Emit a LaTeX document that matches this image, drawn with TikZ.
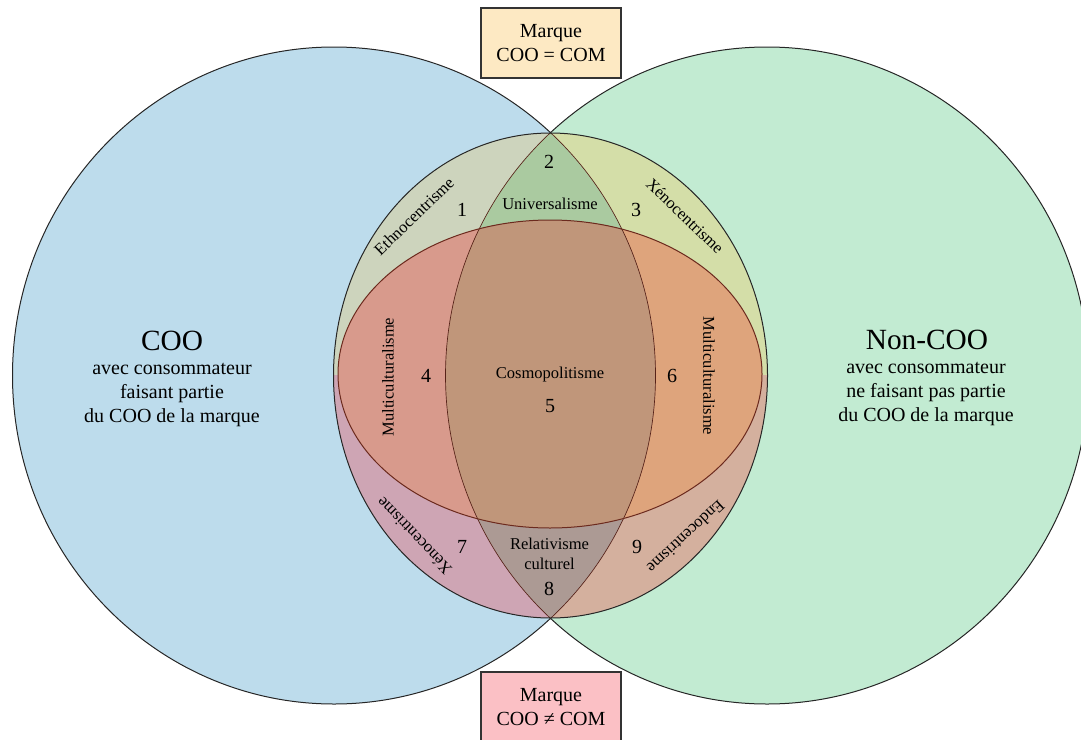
\documentclass[tikz,border=0pt]{standalone}
\usepackage{fontspec}
\setmainfont{Liberation Serif}
\definecolor{cooblue}{HTML}{BDDCEC}
\definecolor{noncoogreen}{HTML}{C2EBD2}
\definecolor{ethno}{HTML}{CDD4BD}
\definecolor{univ}{HTML}{AACAA0}
\definecolor{xenohaut}{HTML}{D4DEA8}
\definecolor{multig}{HTML}{D89A8C}
\definecolor{cosmo}{HTML}{C0967A}
\definecolor{multid}{HTML}{DEA47C}
\definecolor{xenobas}{HTML}{CEA5B4}
\definecolor{relat}{HTML}{AC9A94}
\definecolor{endo}{HTML}{D4B09E}
\definecolor{boxegal}{HTML}{FDE9C3}
\definecolor{boxdiff}{HTML}{FBC0C5}
\definecolor{redline}{HTML}{6B2A1E}
\begin{document}
\begin{tikzpicture}[x=0.75pt, y=-0.75pt,
        outline/.style={draw=black!85, line width=0.75pt},
        num/.style={font=\fontsize{15}{18}\selectfont},
        tag/.style={font=\fontsize{12.4}{15}\selectfont, align=center},
        title/.style={font=\fontsize{22}{26}\selectfont},
        body/.style={font=\fontsize{15}{18}\selectfont, align=center},
        marque/.style={draw=black!80, line width=0.9pt, minimum width=105pt, minimum height=52.5pt,
            align=center, inner sep=0pt, font=\fontsize{15}{18}\selectfont}
    ]
        \useasboundingbox (0,0) rectangle (1081,739);

        % big circles
        \fill[cooblue] (334,375.5) ellipse [x radius=321.5, y radius=328.5];
        \fill[noncoogreen] (767,375.5) ellipse [x radius=321.5, y radius=328.5];
        \draw[outline] (334,375.5) ellipse [x radius=321.5, y radius=328.5];
        \draw[outline] (767,375.5) ellipse [x radius=321.5, y radius=328.5];

        % upper band: 1, 2, 3
        \begin{scope}
            \clip (0,0) rectangle (1081,375.5);
            \clip (550.5,375.5) ellipse [x radius=217, y radius=242.5];
            \fill[xenohaut] (0,0) rectangle (1081,739);
            \fill[ethno] (334,375.5) ellipse [x radius=321.5, y radius=328.5];
            \clip (334,375.5) ellipse [x radius=321.5, y radius=328.5];
            \fill[univ] (767,375.5) ellipse [x radius=321.5, y radius=328.5];
        \end{scope}

        % lower band: 7, 8, 9
        \begin{scope}
            \clip (0,375.5) rectangle (1081,739);
            \clip (550.5,375.5) ellipse [x radius=217, y radius=242.5];
            \fill[endo] (0,0) rectangle (1081,739);
            \fill[xenobas] (334,375.5) ellipse [x radius=321.5, y radius=328.5];
            \clip (334,375.5) ellipse [x radius=321.5, y radius=328.5];
            \fill[relat] (767,375.5) ellipse [x radius=321.5, y radius=328.5];
        \end{scope}

        % middle ellipse: 4, 5, 6
        \begin{scope}
            \clip (550,374) ellipse [x radius=212, y radius=154];
            \fill[multid] (0,0) rectangle (1081,739);
            \fill[multig] (334,375.5) ellipse [x radius=321.5, y radius=328.5];
            \clip (334,375.5) ellipse [x radius=321.5, y radius=328.5];
            \fill[cosmo] (767,375.5) ellipse [x radius=321.5, y radius=328.5];
        \end{scope}

        % lens arcs seen through the inner shapes
        \begin{scope}
            \clip (550.5,375.5) ellipse [x radius=217, y radius=242.5];
            \draw[redline!80!black, line width=0.5pt] (334,375.5) ellipse [x radius=321.5, y radius=328.5];
            \draw[redline!80!black, line width=0.5pt] (767,375.5) ellipse [x radius=321.5, y radius=328.5];
        \end{scope}
        \draw[outline] (550.5,375.5) ellipse [x radius=217, y radius=242.5];
        \draw[redline, line width=0.75pt] (550,374) ellipse [x radius=212, y radius=154];

        % boxes
        \node[marque, fill=boxegal] (egal) at (551,43) {Marque\\COO = COM};
        \node[marque, fill=boxdiff] (diff) at (551,707) {Marque\\COO ≠ COM};

        % circle captions
        \node[title] (coo) at (172,341) {COO};
        \node[body] (cootext) at (172,395) {avec consommateur\\faisant partie\\du COO de la marque};
        \node[title] (noncoo) at (927,340) {Non-COO};
        \node[body] (noncootext) at (926,394) {avec consommateur\\ne faisant pas partie\\du COO de la marque};

        % region labels
        \node[tag] (univlabel) at (550,204) {Universalisme};
        \node[tag] (cosmolabel) at (550,375) {Cosmopolitisme};
        \node[tag] (relatlabel) at (549.5,554) {Relativisme\\culturel};
        \node[tag, rotate=44] (ethnolabel) at (414,216) {Ethnocentrisme};
        \node[tag, rotate=-44] (xenohautlabel) at (685,216) {Xénocentrisme};
        \node[tag, rotate=90] (multiglabel) at (388,377) {Multiculturalisme};
        \node[tag, rotate=-90] (multidlabel) at (709,376) {Multiculturalisme};
        \node[tag, rotate=134] (xenobaslabel) at (414,536) {Xénocentrisme};
        \node[tag, rotate=-137] (endolabel) at (686,537) {Endocentrisme};

        % region numbers
        \foreach \k/\px/\py in {1/462/210, 2/549/162, 3/636/210, 4/426/376, 5/550/406,
                6/672/376, 7/462/547, 8/549/589, 9/637/547}
            \node[num] (n\k) at (\px,\py) {\k};
    \end{tikzpicture}
\end{document}
